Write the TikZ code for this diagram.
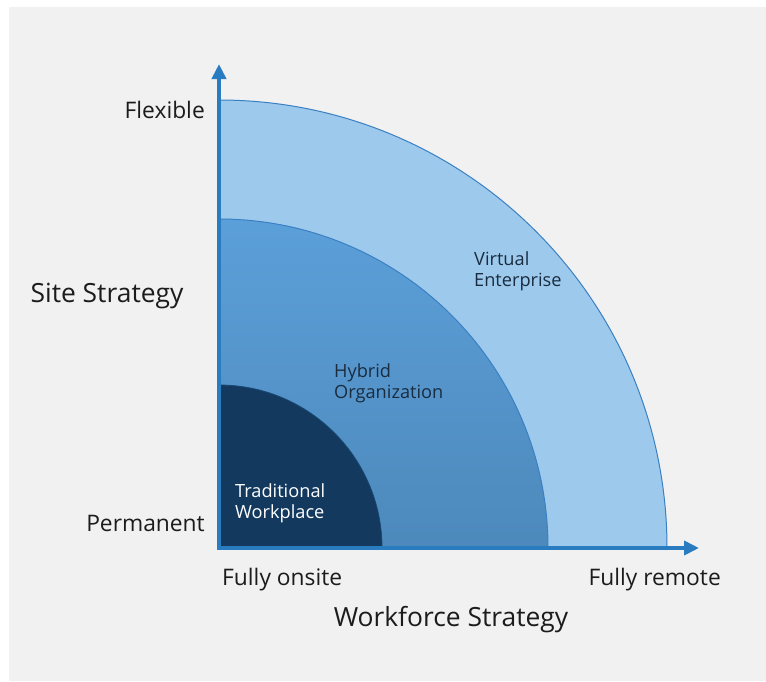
\documentclass[tikz,border=0pt]{standalone}
\usepackage{fontspec}
\setmainfont{Open Sans}
\usetikzlibrary{arrows.meta}
\definecolor{bgpanel}{HTML}{F1F1F1}
\definecolor{axisblue}{HTML}{2A7CC0}
\definecolor{outerfill}{HTML}{9DCAEC}
\definecolor{arcline}{HTML}{3A80C2}
\definecolor{midlight}{HTML}{5CA0DA}
\definecolor{middark}{HTML}{4C88BA}
\definecolor{innerfill}{HTML}{133A5E}
\definecolor{labeldark}{HTML}{1A2C40}
\definecolor{textdark}{HTML}{1C1C1C}
\tikzset{
  axisline/.style={line width=4pt, draw=axisblue, -{Triangle[length=15pt,width=14pt]}},
  axislabel/.style={text=textdark, font=\fontsize{22.8}{27}\selectfont, inner sep=0pt},
  titlelabel/.style={text=textdark, font=\fontsize{26.4}{31}\selectfont, inner sep=0pt},
  regionlabel/.style={font=\fontsize{18.2}{21}\selectfont, align=left, inner sep=0pt, anchor=west}
}
\begin{document}
\begin{tikzpicture}[x=1pt,y=-1pt]
  \useasboundingbox (0,0) rectangle (766,681);
  \fill[white] (0,0) rectangle (766,681);
  \fill[bgpanel] (9,7) rectangle (766,681);
  \coordinate (O) at (219,548);
  % outer quarter disk
  \filldraw[fill=outerfill, draw=arcline, line width=1pt]
    (O) -- ++(448,0) arc[start angle=0, end angle=90, radius=448pt] -- cycle;
  % middle quarter disk
  \begin{scope}
    \clip (O) -- ++(329,0) arc[start angle=0, end angle=90, radius=329pt] -- cycle;
    \shade[shading=axis, shading angle=135, top color=midlight, bottom color=middark]
      (219,210) rectangle (560,560);
  \end{scope}
  \draw[arcline, line width=1pt] (O) ++(329,0) arc[start angle=0, end angle=90, radius=329pt];
  % inner quarter disk
  \filldraw[fill=innerfill, draw=innerfill!80!axisblue, line width=0.8pt]
    (O) -- ++(163,0) arc[start angle=0, end angle=90, radius=163pt] -- cycle;
  % axes
  \coordinate (ytip) at (219,64);
  \coordinate (xtip) at (699,548);
  \draw[axisline] (219,550) -- (ytip);
  \draw[axisline] (217,548) -- (xtip);
  % labels
  \node[axislabel, anchor=east] (flex) at (205,110) {Flexible};
  \node[axislabel, anchor=east] (perm) at (205,523) {Permanent};
  \node[axislabel, anchor=west] (onsite) at (222,580) {Fully onsite};
  \node[axislabel, anchor=east] (remote) at (721,580) {Fully remote};
  \node[titlelabel] (site) at (107,296) {Site Strategy};
  \node[titlelabel] (work) at (451,620) {Workforce Strategy};
  \node[regionlabel, text=labeldark] (virt) at (474,271) {Virtual\\Enterprise};
  \node[regionlabel, text=labeldark] (hyb) at (334,383) {Hybrid\\Organization};
  \node[regionlabel, text=white] (trad) at (235,503) {Traditional\\Workplace};
\end{tikzpicture}
\end{document}
